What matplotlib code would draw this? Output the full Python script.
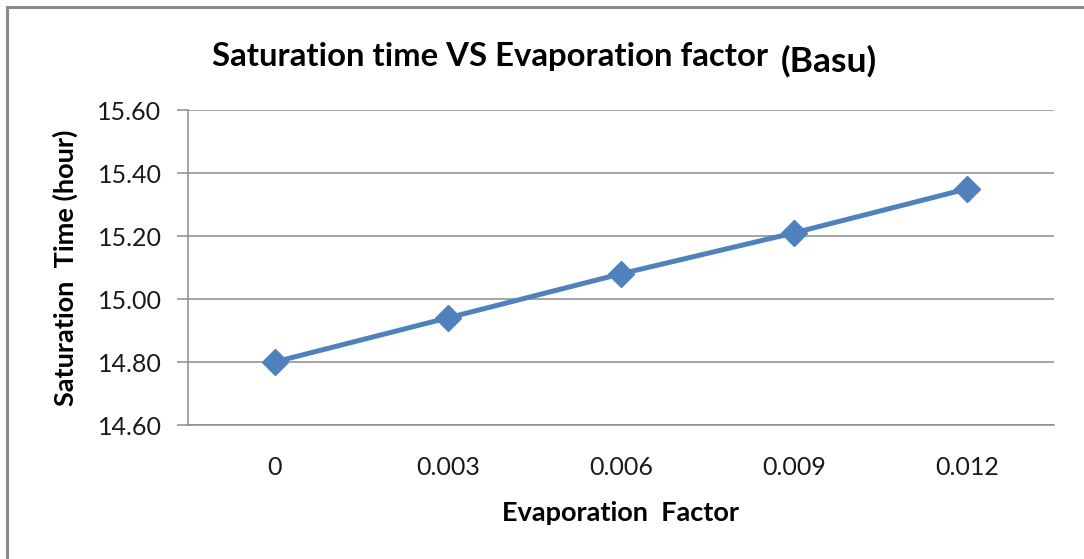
import matplotlib.pyplot as plt
from matplotlib.patches import Rectangle

# evaporation factor vs saturation time (Basu model)
factors = ['0', '0.003', '0.006', '0.009', '0.012']
sat_time = [14.80, 14.94, 15.08, 15.21, 15.35]
y_ticks = [14.60, 14.80, 15.00, 15.20, 15.40, 15.60]

plt.rcParams['font.family'] = ['Lato', 'DejaVu Sans']

fig = plt.figure(figsize=(10.84, 5.59), dpi=100)
ax = fig.add_axes([0.1734, 0.2397, 0.7989, 0.5635])

grid_c = '#8c8c8c'
ax.plot(range(len(factors)), sat_time, '-D', color='#4f81bd', lw=3.6, ms=13,
        zorder=3)

ax.set_xlim(-0.5, len(factors) - 0.5)
ax.set_ylim(14.60, 15.60)
ax.set_yticks(y_ticks)
ax.set_yticklabels(['%.2f' % v for v in y_ticks])
ax.set_xticks(range(len(factors)))
ax.set_xticklabels(factors)
ax.yaxis.grid(True, color=grid_c, lw=1.1)
ax.set_axisbelow(True)

for s in ['top', 'right']:
    ax.spines[s].set_visible(False)
ax.spines['left'].set_color(grid_c)
ax.spines['bottom'].set_color(grid_c)
ax.spines['left'].set_linewidth(1.1)
ax.spines['bottom'].set_linewidth(1.1)

ax.tick_params(axis='y', length=8, color=grid_c, width=1.1, pad=11,
               labelsize=18, labelcolor='#1a1a1a')
ax.tick_params(axis='x', length=0, pad=22, labelsize=18, labelcolor='#1a1a1a')

ax.set_xlabel('Evaporation  Factor', fontsize=19.5, fontweight='bold',
              labelpad=16)
ax.set_ylabel('Saturation  Time (hour)', fontsize=19.5, fontweight='bold',
              labelpad=14)

fig.text(0.196, 0.882, 'Saturation time VS Evaporation factor', fontsize=23.7,
         fontweight='bold', ha='left', va='baseline')
fig.text(0.720, 0.872, '(Basu)', fontsize=25.5, fontweight='bold',
         ha='left', va='baseline')

# chart frame
fig.patches.append(Rectangle((7 / 1084, -0.05), 1.2, 1 - 7 / 559 + 0.05,
                             transform=fig.transFigure, fill=False,
                             ec='#8a8a8a', lw=2.2))

fig.savefig('out.png', dpi=100)
